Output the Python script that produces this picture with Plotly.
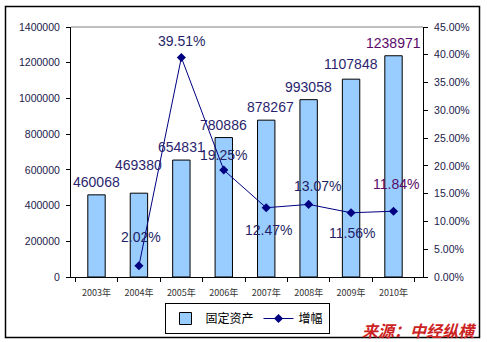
import plotly.graph_objects as go

years = ["2003年", "2004年", "2005年", "2006年", "2007年", "2008年", "2009年", "2010年"]
assets = [460068, 469380, 654831, 780886, 878267, 993058, 1107848, 1238971]
growth_years = ["2004年", "2005年", "2006年", "2007年", "2008年", "2009年", "2010年"]
growth = [0.0202, 0.3951, 0.1925, 0.1247, 0.1307, 0.1156, 0.1184]

# label placement offsets in pixels (dx, dy up)
bar_label_shift = [(0, 13), (0, 28), (0, 13), (0, 13), (4, 13), (0, 13), (0, 15), (0, 13)]
pct_label_shift = [(2, 29), (0, 17), (0, 15), (2, -22), (9, 18), (1, -20), (2, 27)]
bar_label_color = ["#2b1f6e"] * 7 + ["#5a0a6a"]
pct_label_color = ["#1f1f66"] * 6 + ["#5a0a6a"]

W, H = 487, 342
L, R, T, B = 71, 423, 27, 277

fig = go.Figure()
fig.add_trace(go.Bar(
    x=years, y=assets, name="固定资产",
    marker=dict(color="#99CCFF", line=dict(color="black", width=1)),
    yaxis="y",
))
fig.add_trace(go.Scatter(
    x=growth_years, y=growth, name="增幅", mode="lines+markers",
    line=dict(color="#000080", width=1),
    marker=dict(symbol="diamond", size=7, color="#000080"),
    yaxis="y2",
))

ann = []
for i, (x, v) in enumerate(zip(years, assets)):
    dx, dy = bar_label_shift[i]
    ann.append(dict(x=x, y=v, xref="x", yref="y", text=str(v), showarrow=False,
                    xanchor="center", yanchor="middle", xshift=dx, yshift=dy,
                    font=dict(family="Liberation Sans, Arial", size=14, color=bar_label_color[i])))
for i, (x, v) in enumerate(zip(growth_years, growth)):
    dx, dy = pct_label_shift[i]
    ann.append(dict(x=x, y=v, xref="x", yref="y2", text=f"{v*100:.2f}%", showarrow=False,
                    xanchor="center", yanchor="middle", xshift=dx, yshift=dy,
                    font=dict(family="Liberation Sans, Arial", size=14, color=pct_label_color[i])))

pw, ph = R - L, B - T
def px(x):
    return (x - L) / pw
def py(y):
    return (B - y) / ph

ann.append(dict(x=px(479), y=py(330), xref="paper", yref="paper", text="<b><i>来源：中经纵横</i></b>",
                showarrow=False, xanchor="right", yanchor="middle",
                font=dict(family="Noto Sans CJK SC", size=16, color="#cc2222")))

shapes = [
    dict(type="rect", xref="paper", yref="paper", x0=px(5.5), x1=px(479.5), y0=py(337.5), y1=py(6.5),
         line=dict(color="black", width=1.5), layer="above"),
    dict(type="line", xref="paper", yref="paper", x0=0, x1=1, y0=1, y1=1,
         line=dict(color="#808080", width=1)),
]

tickfont = dict(family="Liberation Sans, Arial", size=10.5, color="#1a1a4a")
fig.update_layout(
    width=W, height=H,
    margin=dict(l=L, r=W - R, t=T, b=H - B, autoexpand=False),
    paper_bgcolor="white", plot_bgcolor="white",
    bargap=0.59,
    showlegend=True,
    legend=dict(orientation="h", x=px(247), xanchor="center", y=py(334), yanchor="bottom",
                bordercolor="black", borderwidth=1, bgcolor="white",
                font=dict(family="Noto Sans CJK SC", size=12, color="black"),
                itemwidth=30, tracegroupgap=0),
    xaxis=dict(type="category", showline=True, linecolor="black", linewidth=1,
               ticks="outside", ticklen=4, tickcolor="black", tickson="boundaries",
               tickfont=dict(family="Noto Sans CJK SC, Liberation Sans", size=9, color="#333333"),
               showgrid=False, zeroline=False, ticklabelstandoff=7),
    yaxis=dict(range=[0, 1400000], dtick=200000, showline=True, linecolor="black", linewidth=1,
               ticks="outside", ticklen=4, tickcolor="black", showgrid=False, zeroline=False,
               tickfont=tickfont, tickformat="d", ticklabelstandoff=4),
    yaxis2=dict(range=[0, 0.45], dtick=0.05, overlaying="y", side="right", showline=True,
                linecolor="black", linewidth=1, ticks="outside", ticklen=4, tickcolor="black",
                showgrid=False, zeroline=False, tickformat=".2%", tickfont=tickfont,
                ticklabelstandoff=4),
    annotations=ann,
    shapes=shapes,
    font=dict(family="Liberation Sans, Arial"),
)

fig.write_html("out.html")
